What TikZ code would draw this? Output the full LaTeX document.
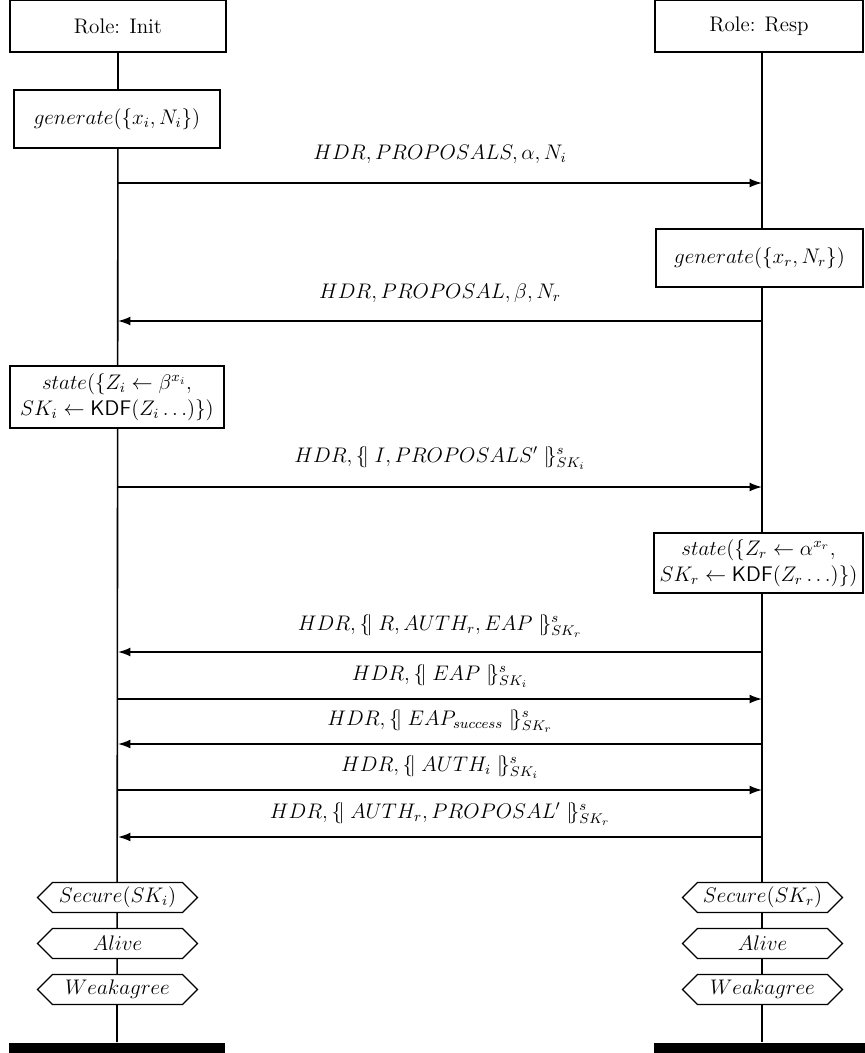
\documentclass[tikz,border=0pt,12pt]{standalone}
\usepackage{amsmath,amssymb,amsfonts}
\usepackage{xcolor}
\usepackage{tikz}
\usetikzlibrary{arrows.meta,shapes.symbols,positioning,calc,backgrounds}

\begin{document}
\begin{tikzpicture}[
		rolebox/.style={draw, line width=0.9pt, fill=white, minimum height=1.04cm, inner sep=0pt},
		actbox/.style={draw, line width=0.9pt, fill=white, align=center, inner sep=0pt},
		claim/.style={draw, line width=0.7pt, fill=white, shape=signal, signal to=west and east, signal pointer angle=90, minimum width=3.2cm, minimum height=0.6cm, inner sep=0pt},
		endbar/.style={fill=black, minimum width=4.32cm, minimum height=0.26cm, inner sep=0pt},
		msg/.style={line width=0.9pt, -{Latex[length=7pt,width=5pt]}},
		msglabel/.style={anchor=base, inner sep=0pt}
	]
		\useasboundingbox (0,0) rectangle (17.28,-21.06);
		% roles
		\node[rolebox, minimum width=4.32cm] (init) at (2.36,-0.52) {Role: Init};
		\node[rolebox, minimum width=4.16cm] (resp) at (15.18,-0.52) {Role: Resp};
		% events on the lifelines
		\node[actbox, minimum width=4.12cm, minimum height=1.16cm] (geni) at (2.34,-2.38) {$generate(\{x_i, N_i\})$};
		\node[actbox, minimum width=4.14cm, minimum height=1.16cm] (genr) at (15.19,-5.16) {$generate(\{x_r, N_r\})$};
		\node[actbox, minimum width=4.28cm, minimum height=1.24cm] (statei) at (2.34,-7.94) {$state(\{Z_i \leftarrow \beta^{x_i},$\\$SK_i \leftarrow \mathsf{KDF}(Z_i \ldots)\})$};
		\node[actbox, minimum width=4.18cm, minimum height=1.2cm] (stater) at (15.17,-11.26) {$state(\{Z_r \leftarrow \alpha^{x_r},$\\$SK_r \leftarrow \mathsf{KDF}(Z_r \ldots)\})$};
		% claims
		\node[claim] (seci) at (2.35,-17.95) {$Secure(SK_i)$};
		\node[claim] (alivei) at (2.35,-18.87) {$Alive$};
		\node[claim] (weaki) at (2.35,-19.79) {$Weakagree$};
		\node[claim] (secr) at (15.25,-17.95) {$Secure(SK_r)$};
		\node[claim] (aliver) at (15.25,-18.87) {$Alive$};
		\node[claim] (weakr) at (15.25,-19.79) {$Weakagree$};
		% ends
		\node[endbar] (endi) at (2.34,-20.98) {};
		\node[endbar] (endr) at (15.24,-20.98) {};
		% lifelines
		\begin{scope}[on background layer]
			\draw[line width=0.9pt] (init.south) -- (endi.north);
			\draw[line width=0.9pt] (resp.south -| endr) -- (endr.north);
		\end{scope}
		% message ends
		\foreach \n/\y in {1/-3.66, 2/-6.42, 3/-9.74, 4/-13.04, 5/-13.98, 6/-14.88, 7/-15.80, 8/-16.74} {
			\coordinate (i\n) at (2.36,\y);
			\coordinate (r\n) at (15.24,\y);
		}
		% messages
		\draw[msg] (i1) -- node[msglabel, yshift=0.48cm] (l1) {$HDR, PROPOSALS, \alpha, N_i$} (r1);
		\draw[msg] (r2) -- node[msglabel, yshift=0.46cm] (l2) {$HDR, PROPOSAL, \beta, N_r$} (i2);
		\draw[msg] (i3) -- node[msglabel, yshift=0.50cm] (l3) {$HDR, \{\!|\; I, PROPOSALS' \;|\!\}^s_{SK_i}$} (r3);
		\draw[msg] (r4) -- node[msglabel, yshift=0.44cm] (l4) {$HDR, \{\!|\; R, AUTH_r, EAP \;|\!\}^s_{SK_r}$} (i4);
		\draw[msg] (i5) -- node[msglabel, yshift=0.38cm] (l5) {$HDR, \{\!|\; EAP \;|\!\}^s_{SK_i}$} (r5);
		\draw[msg] (r6) -- node[msglabel, yshift=0.38cm] (l6) {$HDR, \{\!|\; EAP_{success} \;|\!\}^s_{SK_r}$} (i6);
		\draw[msg] (i7) -- node[msglabel, yshift=0.38cm] (l7) {$HDR, \{\!|\; AUTH_i \;|\!\}^s_{SK_i}$} (r7);
		\draw[msg] (r8) -- node[msglabel, yshift=0.38cm] (l8) {$HDR, \{\!|\; AUTH_r, PROPOSAL' \;|\!\}^s_{SK_r}$} (i8);
	\end{tikzpicture}
\end{document}
